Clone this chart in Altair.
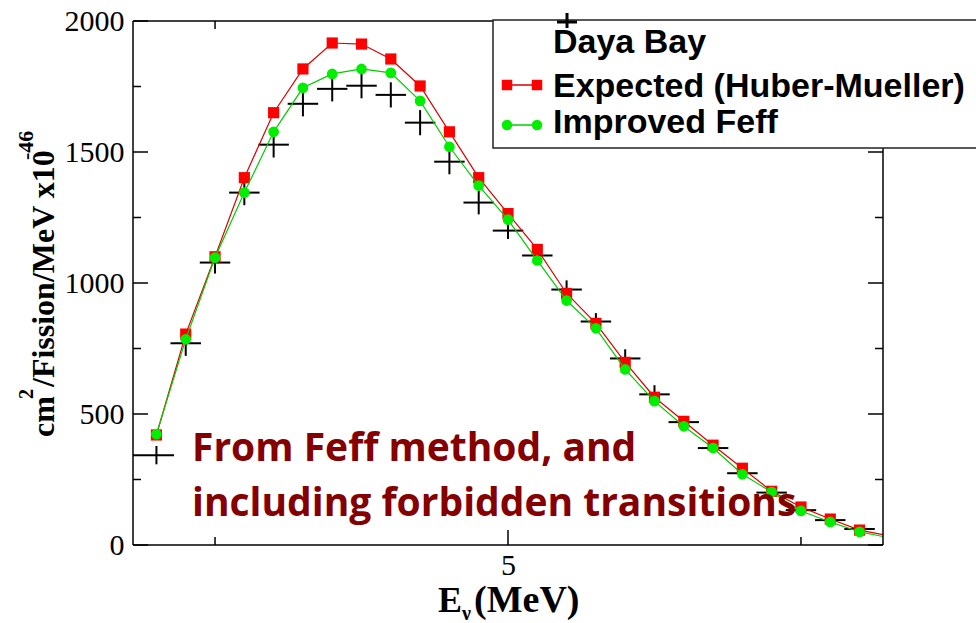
import altair as alt
import pandas as pd

# ---------------- data ----------------
energy = [2.0, 2.25, 2.5, 2.75, 3.0, 3.25, 3.5, 3.75, 4.0, 4.25, 4.5, 4.75, 5.0,
          5.25, 5.5, 5.75, 6.0, 6.25, 6.5, 6.75, 7.0, 7.25, 7.5, 7.75, 8.0]
expected = [420, 805, 1100, 1402, 1650, 1817, 1916, 1912, 1855, 1752, 1577, 1402, 1265,
            1128, 960, 846, 697, 564, 472, 381, 293, 205, 145, 99, 57]
improved = [423, 785, 1097, 1345, 1577, 1745, 1798, 1817, 1802, 1695, 1520, 1372, 1242,
            1086, 933, 827, 670, 549, 453, 370, 270, 202, 130, 88, 50]
dayabay = [343, 770, 1078, 1345, 1528, 1684, 1741, 1753, 1718, 1612, 1463, 1307, 1200,
           1105, 975, 853, 712, 575, 469, 370, 274, 200, 133, 95, 61]
dayabay_err = [35, 48, 42, 48, 49, 48, 48, 48, 48, 48, 48, 45, 32,
               25, 35, 32, 35, 35, 20, 15, 12, 8, 6, 4, 4]
bin_left = [0.2, 0.13, 0.13, 0.13, 0.13, 0.13, 0.13, 0.13, 0.13, 0.13, 0.13, 0.13, 0.13,
            0.13, 0.13, 0.13, 0.13, 0.13, 0.13, 0.13, 0.13, 0.13, 0.13, 0.13, 0.13]
bin_right = [0.15, 0.13, 0.13, 0.13, 0.13, 0.13, 0.13, 0.13, 0.13, 0.13, 0.13, 0.13, 0.13,
             0.13, 0.13, 0.13, 0.13, 0.13, 0.13, 0.13, 0.13, 0.13, 0.13, 0.13, 0.13]
tail_energy = [8.25]
expected_tail = [35]
improved_tail = [28]

y_major = [0, 500, 1000, 1500, 2000]
y_minor = [250, 750, 1250, 1750]
x_major = [5]
x_minor = [2.5, 7.5]

legend_labels = ["Daya Bay", "Expected (Huber-Mueller)", "Improved Feff"]
note_lines = ["From Feff method, and", "including forbidden transitions"]

W, H = 750, 524

# ---------------- frames ----------------
df_lines = pd.DataFrame({
    "E": energy + tail_energy,
    "expected": expected + expected_tail,
    "improved": improved + improved_tail,
})
df_pts = pd.DataFrame({"E": energy, "expected": expected, "improved": improved})
df_db = pd.DataFrame({
    "E": energy,
    "v": dayabay,
    "lo": [e - l for e, l in zip(energy, bin_left)],
    "hi": [e + r for e, r in zip(energy, bin_right)],
    "vlo": [v - d for v, d in zip(dayabay, dayabay_err)],
    "vhi": [v + d for v, d in zip(dayabay, dayabay_err)],
})

xs = alt.Scale(domain=[1.8, 8.2], nice=False, zero=False)
ys = alt.Scale(domain=[0, 2000], nice=False, zero=False)

x_axis = alt.Axis(values=x_major, ticks=False, domain=False, grid=False, title=None,
                  labelFont="Liberation Serif", labelFontSize=30, labelColor="black",
                  labelPadding=5, labelFlush=False, labelOverlap=False, format="d")
y_axis = alt.Axis(values=y_major, ticks=False, domain=False, grid=False, title=None,
                  labelFont="Liberation Serif", labelFontSize=30, labelColor="black",
                  labelPadding=9, labelFlush=False, labelOverlap=False, format="d")

X = lambda f: alt.X(f, type="quantitative", scale=xs, axis=x_axis)
Y = lambda f: alt.Y(f, type="quantitative", scale=ys, axis=y_axis)

one = pd.DataFrame({"k": [0]})

# ---------------- data layers ----------------
db_h = alt.Chart(df_db).mark_rule(color="black", strokeWidth=2, clip=True).encode(
    x=X("lo"), x2="hi", y=Y("v"))
db_v = alt.Chart(df_db).mark_rule(color="black", strokeWidth=2, clip=True).encode(
    x=X("E"), y=Y("vlo"), y2="vhi")

red_line = alt.Chart(df_lines).mark_line(color="#dd0000", strokeWidth=1.2, clip=True).encode(
    x=X("E"), y=Y("expected"))
red_pts = alt.Chart(df_pts).mark_point(shape="square", filled=True, color="#ff0000",
                                       size=125, opacity=1).encode(x=X("E"), y=Y("expected"))
green_line = alt.Chart(df_lines).mark_line(color="#00cc00", strokeWidth=1.2, clip=True).encode(
    x=X("E"), y=Y("improved"))
green_pts = alt.Chart(df_pts).mark_point(shape="circle", filled=True, color="#00ee00",
                                         size=115, opacity=1).encode(x=X("E"), y=Y("improved"))

# ---------------- ticks (inward) ----------------
def yticks(vals, x0, x1):
    return alt.Chart(pd.DataFrame({"v": vals})).mark_rule(color="black", strokeWidth=1.5).encode(
        y=Y("v"), x=alt.value(x0), x2=alt.value(x1))

def xticks(vals, y0, y1):
    return alt.Chart(pd.DataFrame({"v": vals})).mark_rule(color="black", strokeWidth=1.5).encode(
        x=X("v"), y=alt.value(y0), y2=alt.value(y1))

ticks = [
    yticks(y_major, 0, 15), yticks(y_minor, 0, 8),
    yticks(y_major, W, W - 15), yticks(y_minor, W, W - 8),
    xticks(x_major, H, H - 15), xticks(x_minor, H, H - 8),
    xticks(x_major, 0, 15), xticks(x_minor, 0, 8),
]

# ---------------- frame ----------------
def rule(x0, x1, y0, y1, color="black", sw=1.5):
    return alt.Chart(one).mark_rule(color=color, strokeWidth=sw).encode(
        x=alt.value(x0), x2=alt.value(x1), y=alt.value(y0), y2=alt.value(y1))

frame = [rule(0, W, 0, 0), rule(0, W, H, H), rule(0, 0, 0, H), rule(W, W, 0, H)]

# ---------------- legend ----------------
legend_box = alt.Chart(one).mark_rect(fill="white", stroke="#222222", strokeWidth=1.5).encode(
    x=alt.value(360), x2=alt.value(860), y=alt.value(-1), y2=alt.value(127))

leg_cross = [rule(424, 444, 1, 1, sw=3), rule(434, 434, -8, 7, sw=3)]


def txt(s, x, y, font, size, color="black", weight="bold", angle=0, align="left"):
    return alt.Chart(pd.DataFrame({"t": [s]})).mark_text(
        font=font, fontSize=size, fontWeight=weight, color=color, align=align,
        baseline="alphabetic", angle=angle).encode(
        text="t:N", x=alt.value(x), y=alt.value(y))


def sym(shape, color, size, x, y):
    return alt.Chart(one).mark_point(shape=shape, filled=True, color=color,
                                     size=size, opacity=1).encode(
        x=alt.value(x), y=alt.value(y))

leg_syms = [
    rule(374, 404, 64, 64, color="#dd0000", sw=1.5),
    sym("square", "#ff0000", 110, 374, 64), sym("square", "#ff0000", 110, 404, 64),
    rule(374, 404, 104, 104, color="#00cc00", sw=1.5),
    sym("circle", "#00ee00", 110, 374, 104), sym("circle", "#00ee00", 110, 404, 104),
]

leg_texts = [
    txt(legend_labels[0], 420, 32, "Liberation Sans", 34),
    txt(legend_labels[1], 420, 76, "Liberation Sans", 34),
    txt(legend_labels[2], 420, 112, "Liberation Sans", 34),
]

# ---------------- annotation ----------------
note = [
    txt(note_lines[0], 59, 440, "Open Sans", 39, color="#850000"),
    txt(note_lines[1], 59, 495, "Open Sans", 39, color="#850000"),
]

# ---------------- axis titles ----------------
titles = [
    txt("cm", -79, 416, "Liberation Serif", 32, angle=270),
    txt("2", -100, 378, "Liberation Serif", 20, angle=270),
    txt("/Fission/MeV x10", -79, 366, "Liberation Serif", 32, angle=270),
    txt("-46", -100, 139, "Liberation Serif", 22, angle=270),
    txt("E", 305, H + 67, "Liberation Serif", 36),
    txt("\u03bd", 329, H + 75, "Liberation Serif", 20),
    txt("(MeV)", 341, H + 67, "Liberation Serif", 38),
]

layers = ([db_h, db_v, red_line, red_pts, green_line, green_pts] + ticks + frame
          + [legend_box] + leg_cross + leg_syms
          + leg_texts + note + titles)

chart = alt.layer(*layers).properties(
    width=W, height=H,
    padding={"left": 133, "top": 21, "right": 93, "bottom": 78},
    autosize=alt.AutoSizeParams(type="none"),
    background="white",
).configure_view(stroke=None)

chart.save("out.html", embed_options={"renderer": "svg", "actions": False})
